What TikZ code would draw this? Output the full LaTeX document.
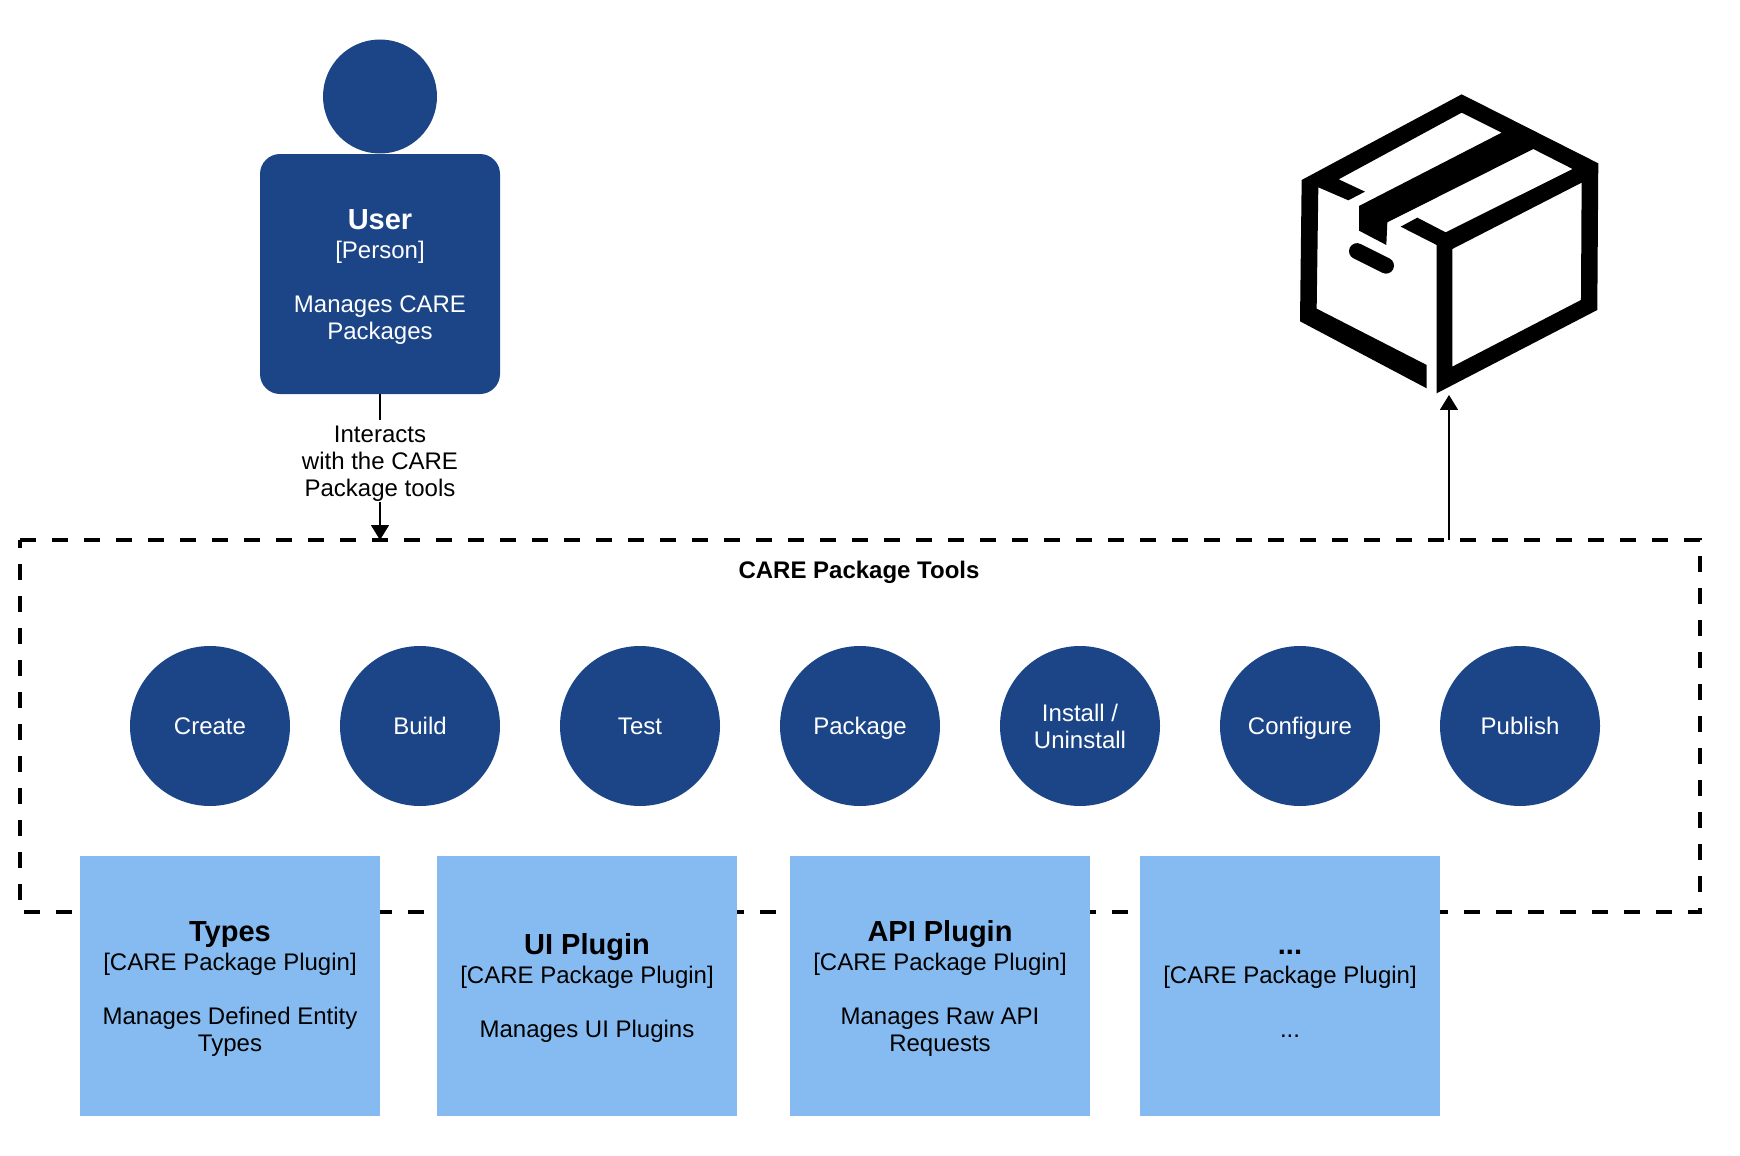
\documentclass[tikz,border=0pt]{standalone}
\usepackage{fontspec}
\setmainfont{Liberation Sans}
\usepackage{tikz}
\usetikzlibrary{arrows.meta,positioning}
\usepackage{xcolor}
\definecolor{navy}{HTML}{1C4587}
\definecolor{skyblue}{HTML}{85BBF0}
\newcommand{\cardtext}[3]{\rule{0pt}{26pt}\textbf{\fontsize{29}{27}\selectfont #1}\\[2pt]#2\\[27pt]#3\rule[-5.5pt]{0pt}{1pt}}

\begin{document}
\begin{tikzpicture}[
  x=1pt,y=-1pt,
  font=\fontsize{24}{27}\selectfont,
  node distance=60pt and 60pt,
  tool/.style={circle,fill=navy,text=white,align=center,inner sep=0pt,outer sep=0pt,minimum size=160pt,
               text height=17.2pt,text depth=0pt},
  plugin/.style={fill=skyblue,align=center,inner sep=0pt,outer sep=0pt,minimum width=300pt,minimum height=260pt},
  boundary/.style={line width=4pt,dash pattern=on 16pt off 16pt},
  arr/.style={-{Triangle[length=15pt,width=18pt]},line width=1.6pt},
]
\useasboundingbox (0,0) rectangle (1740,1156);
% ----- boundary
\node[inner sep=0pt,outer sep=0pt,minimum width=1680pt,minimum height=372pt] (tools) at (860,726) {};
\draw[boundary] (tools.north west) -- (tools.north east) -- (tools.south east) -- (tools.south west) -- cycle;
\node[font=\fontsize{24}{27}\selectfont\bfseries] (toolstitle) at (859,572) {CARE Package Tools};
% ----- user
\node[circle,fill=navy,inner sep=0pt,minimum size=114pt] (head) at (380,96.5) {};
\node[fill=navy,text=white,rounded corners=20pt,align=center,inner sep=0pt,
      minimum width=240pt,minimum height=240pt] (user) at (380,274)
  {\cardtext{User}{[Person]}{Manages CARE\\Packages}};
% ----- tools
\node[tool] (create) at (210,726) {Create};
\node[tool,right=50pt of create] (build) {Build};
\node[tool,right=of build] (test) {Test};
\node[tool,right=of test] (package) {Package};
\node[tool,text height=44.2pt,right=of package] (install) {Install /\\Uninstall};
\node[tool,right=of install] (configure) {Configure};
\node[tool,right=of configure] (publish) {Publish};
% ----- plugins
\node[plugin] (types) at (230,986) {\cardtext{Types}{[CARE Package Plugin]}{Manages Defined Entity\\Types}};
\node[plugin,right=57pt of types] (ui) {\cardtext{UI Plugin}{[CARE Package Plugin]}{Manages UI Plugins}};
\node[plugin,right=53pt of ui] (api) {\cardtext{API Plugin}{[CARE Package Plugin]}{Manages Raw API\\Requests}};
\node[plugin,right=50pt of api] (more) {\cardtext{...}{[CARE Package Plugin]}{...}};
% ----- parcel icon
\begin{scope}[shift={(1280,80)},x=0.3333pt,y=-0.3333pt]
\fill[even odd rule] (545,43) -- (955,250) -- (952,690) -- (470,940) -- (470,495) -- (362,440)
  -- (412,413) -- (497,457) -- (878,267) -- (760,207) -- (322,427) -- (319,495) -- (237,452)
  -- (237,378) -- (665,158) -- (545,98) -- (176,298) -- (255,335) -- (205,361) -- (115,322)
  -- (110,686) -- (440,855) -- (440,925) -- (60,724) -- (65,300) -- cycle
  (517,507) -- (905,308) -- (903,660) -- (517,860) -- cycle;
\draw[line width=16pt,line cap=round] (231,513.5) -- (318,557);
\coordinate (parcel) at (507,945);
\end{scope}
% ----- connectors
\draw[arr] (user.south) -- node[pos=0.46,fill=white,align=center,inner sep=1pt] (interacts)
  {\rule{0pt}{21pt}Interacts\\with the CARE\\Package tools} (tools.north -| user.south);
\draw[arr] (tools.north -| parcel) -- (parcel);
\end{tikzpicture}
\end{document}
